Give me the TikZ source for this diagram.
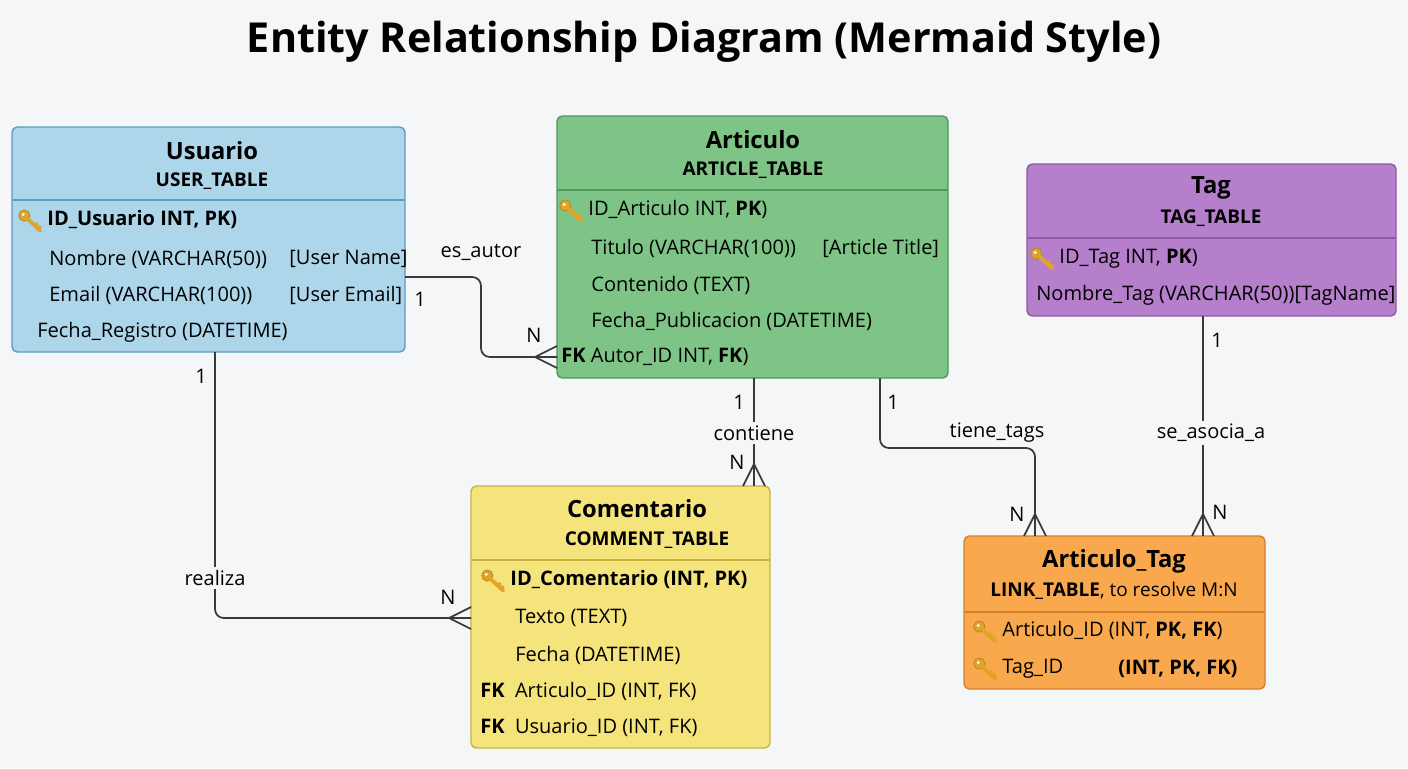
\documentclass[tikz,border=0pt]{standalone}
\usepackage{fontspec}
\setmainfont{Open Sans}
\usetikzlibrary{arrows.meta,positioning,calc}
\definecolor{bgGray}{HTML}{F4F6F8}
\definecolor{usrFill}{HTML}{AED6EA}
\definecolor{usrLine}{HTML}{5B9CC2}
\definecolor{artFill}{HTML}{7DC486}
\definecolor{artLine}{HTML}{4C9A58}
\definecolor{tagFill}{HTML}{B67FCB}
\definecolor{tagLine}{HTML}{8C5AA2}
\definecolor{comFill}{HTML}{F5E47C}
\definecolor{comLine}{HTML}{C8B342}
\definecolor{linkFill}{HTML}{F9A84E}
\definecolor{linkLine}{HTML}{D6802A}
\definecolor{keyGold}{HTML}{E0A526}
\definecolor{relLine}{HTML}{3A3A3A}
\newcommand{\pkey}{\tikz[baseline=-0.6ex,x=1pt,y=1pt]{%
  \draw[keyGold!80!black,fill=keyGold,line width=0.4pt] (-4,2) circle (3.2);
  \fill[bgGray] (-4.6,2.6) circle (0.9);
  \draw[keyGold,line width=2.2pt,line cap=round] (-2,0) -- (5,-6.5);
  \draw[keyGold,line width=1.6pt] (2.2,-3.6) -- (3.6,-2.2) (4,-5.4) -- (5.4,-4);}}
\begin{document}
\begin{tikzpicture}[x=0.02cm,y=-0.02cm,
    entity/.style={rectangle, draw, rounded corners=3pt, line width=0.8pt},
    ttl/.style={font=\fontsize{13.5}{15}\selectfont\bfseries},
    sub/.style={font=\fontsize{10.8}{12}\selectfont\bfseries},
    row/.style={anchor=west, font=\fontsize{11.4}{13}\selectfont, inner sep=0pt},
    rel/.style={draw=relLine, line width=1pt, rounded corners=5pt},
    card/.style={font=\fontsize{11.4}{13}\selectfont, inner sep=1pt},
    rlabel/.style={font=\fontsize{11.4}{13}\selectfont, fill=bgGray, inner sep=2pt}
]
\fill[bgGray] (0,0) rectangle (1408,768);
\node[font=\fontsize{23.5}{27}\selectfont\bfseries] (title) at (704,42) {Entity Relationship Diagram (Mermaid Style)};

% Usuario
\node[entity, fill=usrFill, draw=usrLine, minimum width=393*0.02cm, minimum height=225*0.02cm] (usr) at (208.5,239.5) {};
\draw[usrLine, line width=0.8pt] (12,200) -- (405,200);
\node[ttl] at (212,151) {Usuario};
\node[sub] at (212,181) {USER\_TABLE};
\node[row] at (18,221) {\pkey\ \textbf{ID\_Usuario INT, PK)}};
\node[row] at (49,259) {Nombre (VARCHAR(50))};
\node[row] at (289,259) {[User Name]};
\node[row] at (49,295) {Email (VARCHAR(100))};
\node[row] at (289,295) {[User Email]};
\node[row] at (37,332) {Fecha\_Registro (DATETIME)};

% Articulo
\node[entity, fill=artFill, draw=artLine, minimum width=391*0.02cm, minimum height=262*0.02cm] (art) at (752.5,247) {};
\draw[artLine, line width=0.8pt] (557,190) -- (948,190);
\node[ttl] at (753,140) {Articulo};
\node[sub] at (753,170) {ARTICLE\_TABLE};
\node[row] at (559,211) {\pkey\ ID\_Articulo INT, \textbf{PK})};
\node[row] at (591,248) {Titulo (VARCHAR(100))};
\node[row] at (822,248) {[Article Title]};
\node[row] at (591,285) {Contenido (TEXT)};
\node[row] at (591,321) {Fecha\_Publicacion (DATETIME)};
\node[row] at (561,357) {\textbf{FK} Autor\_ID INT, \textbf{FK})};

% Tag
\node[entity, fill=tagFill, draw=tagLine, minimum width=369*0.02cm, minimum height=152*0.02cm] (tag) at (1211.5,240) {};
\draw[tagLine, line width=0.8pt] (1027,238) -- (1396,238);
\node[ttl] at (1211,188) {Tag};
\node[sub] at (1211,218) {TAG\_TABLE};
\node[row] at (1030,259) {\pkey\ ID\_Tag INT, \textbf{PK})};
\node[row] at (1036,295) {Nombre\_Tag (VARCHAR(50))[TagName]};

% Comentario
\node[entity, fill=comFill, draw=comLine, minimum width=299*0.02cm, minimum height=262*0.02cm] (com) at (620.5,617) {};
\draw[comLine, line width=0.8pt] (471,560) -- (770,560);
\node[ttl] at (637,509) {Comentario};
\node[sub] at (647,540) {COMMENT\_TABLE};
\node[row] at (481,581) {\pkey\ \textbf{ID\_Comentario (INT, PK)}};
\node[row] at (515,618) {Texto (TEXT)};
\node[row] at (515,655) {Fecha (DATETIME)};
\node[row] at (480,691) {\textbf{FK}\ \ Articulo\_ID (INT, FK)};
\node[row] at (480,728) {\textbf{FK}\ \ Usuario\_ID (INT, FK)};

% Articulo_Tag
\node[entity, fill=linkFill, draw=linkLine, minimum width=301*0.02cm, minimum height=153*0.02cm] (lnk) at (1114.5,612.5) {};
\draw[linkLine, line width=0.8pt] (964,612) -- (1265,612);
\node[ttl] at (1114,561) {Articulo\_Tag};
\node[font=\fontsize{10.8}{12}\selectfont] at (1114,591) {\textbf{LINK\_TABLE}, to resolve M:N};
\node[row] at (973,632) {\pkey\ Articulo\_ID (INT, \textbf{PK, FK})};
\node[row] at (973,669) {\pkey\ Tag\_ID};
\node[row] at (1118,669) {\textbf{(INT, PK, FK)}};

% relationship end points
\coordinate (eA) at (405,277);
\coordinate (eB) at (557,357);
\coordinate (cA) at (754,378);
\coordinate (cB) at (754,486);
\coordinate (rA) at (215,352);
\coordinate (rB) at (471,618);
\coordinate (tA) at (880,378);
\coordinate (tB) at (1035,536);
\coordinate (sA) at (1203,316);
\coordinate (sB) at (1203,536);

% es_autor
\draw[rel] (eA) -- (481,277) -- (481,357) -- (eB);
\draw[relLine, line width=1pt] (535,357) -- (eB) (535,357) -- ($(eB)+(0,-11)$) (535,357) -- ($(eB)+(0,11)$);
\node[rlabel] at (481,252) {es\_autor};
\node[card] at (420,299) {1};
\node[card] at (534,335) {N};

% contiene
\draw[rel] (cA) -- (cB);
\draw[relLine, line width=1pt] (754,464) -- ($(cB)+(-11,0)$) (754,464) -- ($(cB)+(11,0)$);
\node[rlabel] at (754,433) {contiene};
\node[card] at (739,402) {1};
\node[card] at (737,462) {N};

% realiza
\draw[rel] (rA) -- (215,618) -- (rB);
\draw[relLine, line width=1pt] (449,618) -- ($(rB)+(0,-11)$) (449,618) -- ($(rB)+(0,11)$);
\node[rlabel] at (215,578) {realiza};
\node[card] at (201,376) {1};
\node[card] at (448,597) {N};

% tiene_tags
\draw[rel] (tA) -- (880,448) -- (1035,448) -- (tB);
\draw[relLine, line width=1pt] (1035,514) -- ($(tB)+(-11,0)$) (1035,514) -- ($(tB)+(11,0)$);
\node[rlabel] at (997,433) {tiene\_tags};
\node[card] at (893,402) {1};
\node[card] at (1017,514) {N};

% se_asocia_a
\draw[rel] (sA) -- (sB);
\draw[relLine, line width=1pt] (1203,514) -- ($(sB)+(-11,0)$) (1203,514) -- ($(sB)+(11,0)$);
\node[rlabel] at (1211,433) {se\_asocia\_a};
\node[card] at (1217,340) {1};
\node[card] at (1220,512) {N};
\end{tikzpicture}
\end{document}
